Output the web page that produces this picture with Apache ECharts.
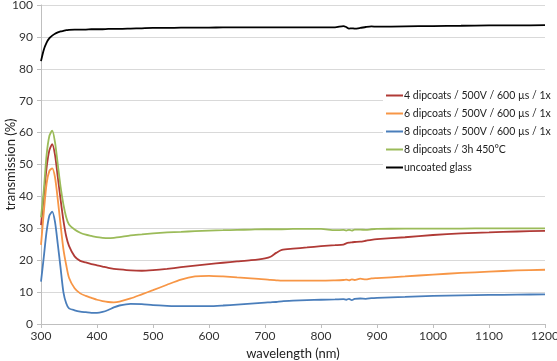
<!DOCTYPE html>
<html>
<head>
<meta charset="utf-8">
<script src="https://cdn.jsdelivr.net/npm/echarts@6/dist/echarts.min.js"></script>
<style>
  html, body { margin: 0; padding: 0; background: #fff; }
  #chart { width: 557px; height: 361px; }
</style>
</head>
<body>
<div id="chart"></div>
<script>
// wavelengths (nm) shared by all curves
var wavelengths = [300, 305, 310, 315, 320, 325, 330, 335, 340, 345, 350, 360, 370, 380, 390, 400, 410, 420, 430, 440, 460, 480, 500, 525, 550, 575, 600, 625, 650, 675, 700, 710, 720, 730, 750, 775, 800, 825, 840, 845, 850, 855, 860, 870, 880, 890, 900, 950, 1000, 1050, 1100, 1150, 1200];

var red4 = [31, 40, 49, 54.5, 56.4, 53, 46, 39, 32.5, 27.5, 24.5, 21.2, 19.8, 19.3, 18.8, 18.4, 18.0, 17.6, 17.3, 17.1, 16.8, 16.7, 16.9, 17.3, 17.8, 18.3, 18.8, 19.2, 19.6, 20.0, 20.6, 21.1, 22.3, 23.2, 23.6, 24.0, 24.4, 24.7, 24.9, 25.3, 25.5, 25.6, 25.7, 25.8, 26.1, 26.4, 26.6, 27.2, 27.9, 28.4, 28.7, 29.0, 29.2];
var orange6 = [24.8, 35, 44, 48, 48.8, 46, 39, 31, 23.5, 18.5, 14.5, 11.2, 9.6, 8.8, 8.2, 7.6, 7.2, 6.9, 6.8, 7.0, 8.0, 9.3, 10.6, 12.3, 13.9, 14.9, 15.1, 14.9, 14.6, 14.3, 14.0, 13.8, 13.7, 13.6, 13.6, 13.6, 13.6, 13.7, 13.8, 13.9, 13.7, 14.0, 13.8, 14.2, 14.0, 14.3, 14.4, 14.9, 15.5, 16.0, 16.4, 16.8, 17.0];
var blue8 = [13.3, 21, 29, 34, 35.2, 32, 25, 17.5, 10, 6.5, 4.9, 4.3, 3.9, 3.7, 3.5, 3.5, 3.8, 4.4, 5.2, 5.8, 6.3, 6.2, 5.9, 5.7, 5.6, 5.6, 5.6, 5.8, 6.1, 6.4, 6.7, 6.8, 6.9, 7.1, 7.3, 7.5, 7.6, 7.7, 7.8, 7.6, 7.9, 7.5, 7.9, 8.0, 7.9, 8.1, 8.2, 8.5, 8.8, 9.0, 9.1, 9.2, 9.3];
var green8 = [33.4, 42, 53, 59, 60.6, 57, 50, 43, 37.5, 33.5, 31.2, 29.6, 28.6, 28.0, 27.6, 27.2, 27.0, 26.9, 27.0, 27.2, 27.8, 28.1, 28.4, 28.7, 28.9, 29.1, 29.3, 29.4, 29.5, 29.6, 29.7, 29.7, 29.7, 29.7, 29.8, 29.8, 29.8, 29.4, 29.5, 29.3, 29.5, 29.3, 29.6, 29.6, 29.5, 29.7, 29.8, 29.9, 29.9, 29.9, 30.0, 30.0, 30.0];
var glass = [82.4, 86, 88.2, 89.6, 90.4, 91.0, 91.4, 91.7, 91.9, 92.1, 92.2, 92.3, 92.3, 92.3, 92.4, 92.4, 92.4, 92.5, 92.5, 92.5, 92.6, 92.7, 92.8, 92.8, 92.9, 92.9, 92.9, 93.0, 93.0, 93.0, 93.0, 93.0, 93.0, 93.0, 93.0, 93.0, 93.0, 93.0, 93.4, 93.1, 92.6, 92.7, 92.6, 92.8, 93.1, 93.3, 93.2, 93.3, 93.4, 93.5, 93.6, 93.6, 93.7];

var seriesNames = ['4 dipcoats / 500V / 600 µs / 1x', '6 dipcoats / 500V / 600 µs / 1x', '8 dipcoats / 500V / 600 µs / 1x', '8 dipcoats / 3h 450°C', 'uncoated glass'];
var seriesValues = [red4, orange6, blue8, green8, glass];
var seriesColors = ['#b03a36', '#f79646', '#4a7ebb', '#9bbb59', '#000000'];

function pairs(vals) {
  return wavelengths.map(function (w, i) { return [w, vals[i]]; });
}

var font = 'Lato, "Open Sans", sans-serif';
var chart = echarts.init(document.getElementById('chart'));

chart.setOption({
  animation: false,
  textStyle: {fontFamily: font},
  grid: {left: 41, right: 12, top: 5, bottom: 37, outerBoundsMode: 'none'},
  legend: {
    orient: 'vertical',
    left: 383,
    top: 84,
    data: seriesNames,
    icon: 'rect',
    itemWidth: 17,
    itemHeight: 2,
    itemGap: 7,
    backgroundColor: '#fff',
    padding: [6, 4, 14, 3],
    textStyle: {fontFamily: font, fontSize: 10.5, color: '#222', padding: [0, 0, 0, -4]}
  },
  xAxis: {
    type: 'value',
    min: 300,
    max: 1200,
    interval: 100,
    name: 'wavelength (nm)',
    nameLocation: 'middle',
    nameGap: 23,
    nameMoveOverlap: false,
    nameTextStyle: {fontFamily: font, fontSize: 13, color: '#222'},
    axisLine: {lineStyle: {color: '#bfbfbf'}},
    axisTick: {show: true, length: 4, lineStyle: {color: '#bfbfbf'}},
    axisLabel: {fontFamily: font, fontSize: 12, color: '#333', margin: 6, formatter: function (v) { return String(v); }},
    splitLine: {show: false}
  },
  yAxis: {
    type: 'value',
    min: 0,
    max: 100,
    interval: 10,
    name: 'transmission (%)',
    nameLocation: 'middle',
    nameGap: 24,
    nameMoveOverlap: false,
    nameTextStyle: {fontFamily: font, fontSize: 13, color: '#222'},
    axisLine: {show: true, lineStyle: {color: '#bfbfbf'}},
    axisTick: {show: true, length: 4, lineStyle: {color: '#bfbfbf'}},
    axisLabel: {fontFamily: font, fontSize: 12, color: '#333', margin: 8},
    splitLine: {lineStyle: {color: '#d9d9d9', width: 1}}
  },
  series: seriesNames.map(function (name, i) {
    return {
      name: name,
      type: 'line',
      data: pairs(seriesValues[i]),
      showSymbol: false,
      symbol: 'none',
      smooth: 0.25,
      color: seriesColors[i],
      lineStyle: {width: 1.8, color: seriesColors[i]},
      z: i === 4 ? 3 : 2
    };
  })
});
</script>
</body>
</html>
